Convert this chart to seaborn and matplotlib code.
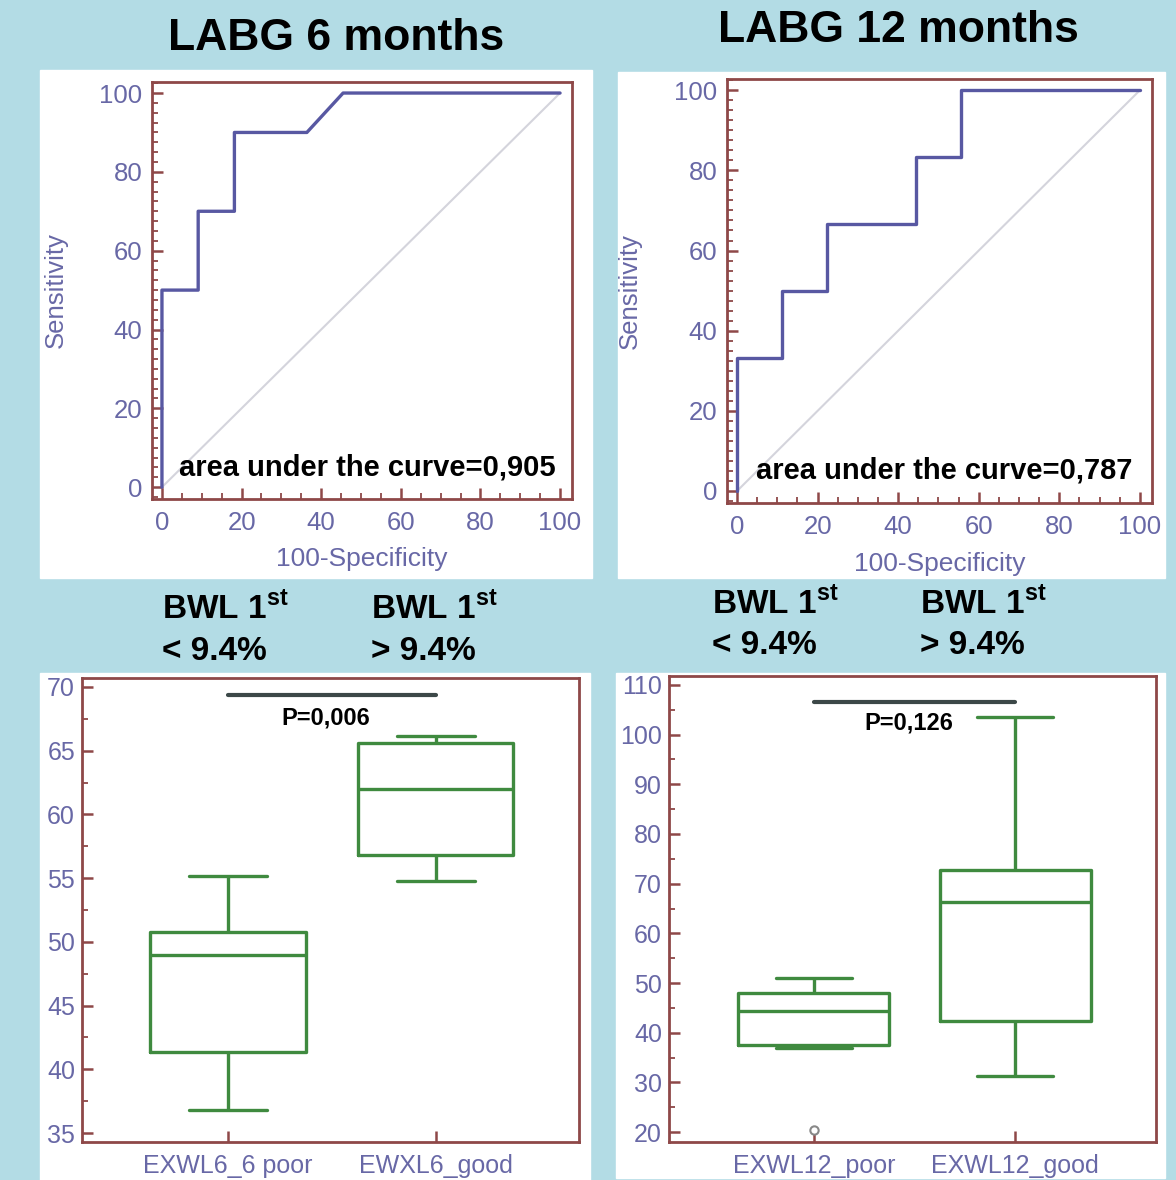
import numpy as np
import pandas as pd
import matplotlib.pyplot as plt
import seaborn as sns
from matplotlib.patches import Rectangle
from matplotlib.ticker import MultipleLocator, AutoMinorLocator

# ROC curves (100-Specificity, Sensitivity)
roc6_x = [0, 0, 9.1, 9.1, 18.2, 18.2, 36.4, 45.5, 100]
roc6_y = [0, 50, 50, 70, 70, 90, 90, 100, 100]
roc12_x = [0, 0, 11.1, 11.1, 22.2, 22.2, 44.4, 44.4, 55.6, 55.6, 100]
roc12_y = [0, 33.3, 33.3, 50, 50, 66.7, 66.7, 83.3, 83.3, 100, 100]
diag = [0, 100]
auc_labels = ["area under the curve=0,905", "area under the curve=0,787"]
titles = ["LABG 6 months", "LABG 12 months"]

cats6 = ["EXWL6_6 poor", "EWXL6_good"]
poor6 = [36.8, 41.35, 49.0, 50.8, 55.2]
good6 = [54.8, 56.8, 62.0, 65.6, 66.15]
cats12 = ["EXWL12_poor", "EXWL12_good"]
poor12 = [20.4, 36.9, 37.5, 41.0, 44.4, 46.0, 48.0, 50.0, 51.0]
good12 = [31.3, 42.4, 66.3, 72.8, 103.6]
p_labels = ["P=0,006", "P=0,126"]
p_level = [69.4, 106.6]

BG = "#b3dce5"
FRAME = "#8e4848"
ROC_C = "#5858a2"
TICK_C = "#6868a6"
GREEN = "#3f8a3f"

sns.set_style("white")
plt.rcParams['font.family'] = ['Liberation Sans', 'DejaVu Sans']
plt.rcParams['mathtext.fontset'] = 'custom'
plt.rcParams['mathtext.bf'] = 'Liberation Sans:bold'
plt.rcParams['mathtext.rm'] = 'Liberation Sans'
plt.rcParams['text.color'] = 'black'

W, H = 1176, 1180
fig = plt.figure(figsize=(W / 100, H / 100), dpi=100, facecolor=BG)


def frac(l, t, r, b):
    return [l / W, 1 - b / H, (r - l) / W, (b - t) / H]


for l, t, r, b in [(40, 70, 592, 578), (618, 72, 1165, 578),
                   (40, 673, 590, 1180), (616, 673, 1165, 1178)]:
    fig.add_artist(Rectangle((l / W, 1 - b / H), (r - l) / W, (b - t) / H,
                             transform=fig.transFigure, color="white", zorder=-1))


def style_axes(ax, fs=18.5):
    for s in ax.spines.values():
        s.set_color(FRAME)
        s.set_linewidth(2)
        s.set_visible(True)
    ax.tick_params(which="both", direction="in", color=FRAME, labelcolor=TICK_C,
                   labelsize=fs, top=False, right=False, left=True, bottom=True)
    ax.tick_params(which="major", length=8, width=1.8, pad=7)
    ax.tick_params(which="minor", length=4, width=1.3)


# ROC panels
roc_pos = [(152, 82, 572, 499), (727, 79, 1152, 503)]
roc_data = [(roc6_x, roc6_y), (roc12_x, roc12_y)]
for i, (pos, (rx, ry)) in enumerate(zip(roc_pos, roc_data)):
    ax = fig.add_axes(frac(*pos))
    ax.plot(diag, diag, color="#d4d4dc", lw=1.5, zorder=1)
    sns.lineplot(x=rx, y=ry, sort=False, estimator=None, color=ROC_C, lw=2.4, ax=ax, zorder=2)
    ax.set_xlim(-2.5, 103)
    ax.set_ylim(-3, 102.8)
    ax.xaxis.set_major_locator(MultipleLocator(20))
    ax.yaxis.set_major_locator(MultipleLocator(20))
    ax.xaxis.set_minor_locator(AutoMinorLocator(4))
    ax.yaxis.set_minor_locator(AutoMinorLocator(8))
    style_axes(ax)
    ax.tick_params(axis="x", pad=9)
    ax.set_xlabel("100-Specificity", color=TICK_C, fontsize=19)
    ax.set_ylabel("Sensitivity", color=TICK_C, fontsize=18.5)
    ax.xaxis.set_label_coords(0.5, -0.115)
    ax.yaxis.set_label_coords(-0.2, 0.5)
    ax.text(51.5, 5, auc_labels[i], ha="center", va="center", fontsize=21,
            fontweight="bold", color="black")

fig.text(336 / W, 1 - 38 / H, titles[0], ha="center", va="center", fontsize=32,
         fontweight="bold", color="black")
fig.text(898 / W, 1 - 30 / H, titles[1], ha="center", va="center", fontsize=32,
         fontweight="bold", color="black")

# BWL labels
for x0, y1, y2, sign in [(162, 608, 651, "<"), (371, 608, 651, ">"),
                          (712, 603, 646, "<"), (920, 603, 646, ">")]:
    fig.text(x0 / W, 1 - y1 / H, r"BWL 1$^{\mathbf{st}}$", ha="left", va="center",
             fontsize=24, fontweight="bold", color="black")
    fig.text(x0 / W, 1 - y2 / H, sign + " 9.4%", ha="left", va="center",
             fontsize=24, fontweight="bold", color="black")

# box plot panels
box_pos = [(82, 678, 579, 1142), (669, 676, 1156, 1142)]
groups = [(cats6, poor6, good6), (cats12, poor12, good12)]
ylims = [(34.3, 70.7), (18.0, 111.8)]
xlims = [(-0.70, 1.69), (-0.72, 1.70)]
ysteps = [5, 10]
p_text_y = [67.6, 102.3]
for i, (pos, (cats, poor, good)) in enumerate(zip(box_pos, groups)):
    ax = fig.add_axes(frac(*pos))
    df = pd.DataFrame({
        "group": [cats[0]] * len(poor) + [cats[1]] * len(good),
        "value": poor + good,
    })
    sns.boxplot(data=df, x="group", y="value", order=cats, width=0.75, fill=False,
                color=GREEN, linewidth=2.4, whis=1.5, fliersize=6,
                flierprops=dict(marker="o", markeredgecolor="#888888",
                                markerfacecolor="white", markeredgewidth=1.5),
                ax=ax)
    ax.plot([0, 1], [p_level[i]] * 2, color="#3c4848", lw=3)
    ax.text(0.47, p_text_y[i], p_labels[i], ha="center", va="center", fontsize=17,
            fontweight="bold", color="black")
    ax.set_xlim(*xlims[i])
    ax.set_ylim(*ylims[i])
    ax.yaxis.set_major_locator(MultipleLocator(ysteps[i]))
    ax.yaxis.set_minor_locator(AutoMinorLocator(2))
    style_axes(ax, fs=18)
    ax.tick_params(axis="x", which="minor", bottom=False)
    ax.tick_params(axis="x", pad=9)
    ax.tick_params(axis="y", pad=5)
    ax.set_xlabel("")
    ax.set_ylabel("")

fig.savefig("out.png", dpi=100, facecolor=BG)
